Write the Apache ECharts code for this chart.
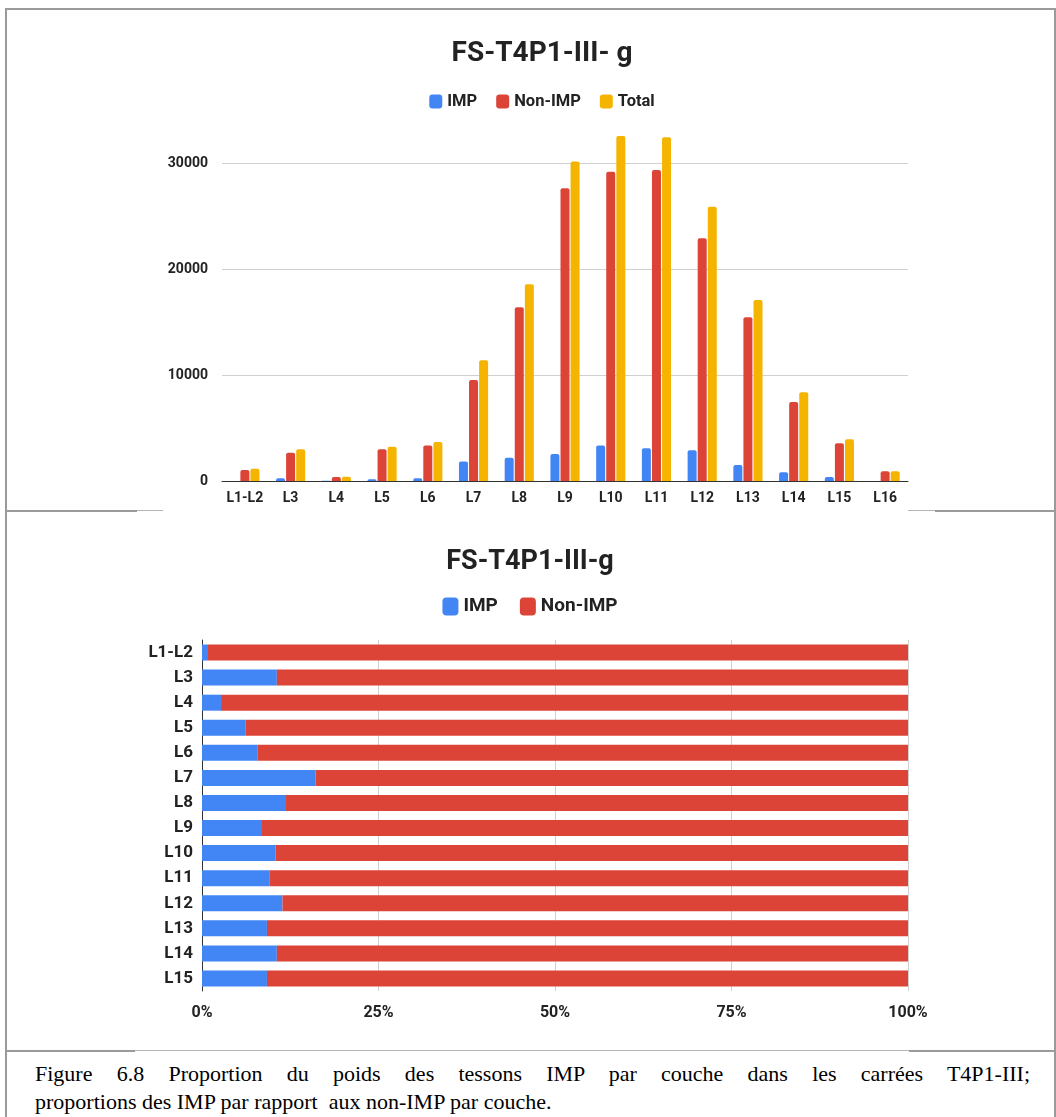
<!DOCTYPE html>
<html>
<head>
<meta charset="utf-8">
<script src="https://cdn.jsdelivr.net/npm/echarts@6/dist/echarts.min.js"></script>
<style>
  html, body { margin: 0; padding: 0; background: #fff; width: 1056px; height: 1117px; overflow: hidden; position: relative; }
  .ln { position: absolute; background: #9a9a9a; z-index: 5; }
  .thin { position: absolute; background: #b5b5b5; z-index: 5; height: 1px; }
  #top { position: absolute; left: 0; top: 0; width: 1084px; height: 512px; }
  #bot { position: absolute; left: 0; top: 515px; width: 1060px; height: 535px; }
  .cap { position: absolute; left: 35px; width: 995px; font-family: "Liberation Serif", "Times New Roman", serif; font-size: 22px; color: #000; white-space: nowrap; z-index: 6; }
  #cap1 { top: 1061px; text-align: justify; text-align-last: justify; white-space: normal; }
  #cap2 { top: 1089px; }
</style>
</head>
<body>
<div id="top"></div>
<div id="bot"></div>

<div class="ln" style="left:5px; top:8px; width:1051px; height:2px;"></div>
<div class="ln" style="left:5px; top:8px; width:2px; height:1109px;"></div>
<div class="ln" style="left:1054px; top:8px; width:2px; height:1109px;"></div>
<div class="ln" style="left:5px; top:510px; width:132px; height:2px;"></div>
<div class="thin" style="left:137px; top:510px; width:26px;"></div>
<div class="thin" style="left:908px; top:510px; width:27px;"></div>
<div class="ln" style="left:935px; top:510px; width:121px; height:2px;"></div>
<div class="ln" style="left:5px; top:1050px; width:130px; height:2px;"></div>
<div class="thin" style="left:135px; top:1050px; width:774px;"></div>
<div class="ln" style="left:909px; top:1050px; width:147px; height:2px;"></div>

<div class="cap" id="cap1">Figure 6.8 Proportion du poids des tessons IMP par couche dans les carrées T4P1-III;</div>
<div class="cap" id="cap2">proportions des IMP par rapport&nbsp; aux non-IMP par couche.</div>

<script>
// ---- Top chart data (grams) ----
const layers = ['L1-L2','L3','L4','L5','L6','L7','L8','L9','L10','L11','L12','L13','L14','L15','L16'];
const impWeight    = [10, 250, 12, 160, 250, 1850, 2200, 2550, 3360, 3080, 2890, 1510, 820, 380, 0];
const nonImpWeight = [1040, 2670, 380, 2990, 3360, 9530, 16380, 27610, 29180, 29340, 22890, 15440, 7450, 3550, 910];
const totalWeight  = [1160, 2990, 390, 3240, 3680, 11380, 18550, 30130, 32550, 32420, 25880, 17080, 8370, 3930, 910];
const weightTicks  = [0, 10000, 20000, 30000];

// ---- Bottom chart data (percent) ----
const layers2   = ['L1-L2','L3','L4','L5','L6','L7','L8','L9','L10','L11','L12','L13','L14','L15'];
const impPct    = [0.85, 10.6, 2.7, 6.2, 7.9, 16.1, 11.9, 8.5, 10.4, 9.6, 11.4, 9.2, 10.6, 9.2];
const nonImpPct = [99.15, 89.4, 97.3, 93.8, 92.1, 83.9, 88.1, 91.5, 89.6, 90.4, 88.6, 90.8, 89.4, 90.8];
const pctTicks  = ['0%', '25%', '50%', '75%', '100%'];

const BLUE = '#4285F4', RED = '#DB4437', YELLOW = '#F4B400';
const FONT = 'Roboto';

const topChart = echarts.init(document.getElementById('top'), null, { renderer: 'canvas' });
topChart.setOption({
  animation: false,
  color: [BLUE, RED, YELLOW],
  title: {
    text: 'FS-T4P1-III- g', left: 'center', top: 35,
    textStyle: { fontFamily: FONT, fontWeight: 'bold', fontSize: 28, color: '#222' }
  },
  legend: {
    data: ['IMP', 'Non-IMP', 'Total'], left: 'center', top: 88,
    icon: 'roundRect', itemWidth: 13, itemHeight: 14, itemGap: 19,
    textStyle: { fontFamily: FONT, fontWeight: 'bold', fontSize: 16.5, color: '#222' }
  },
  grid: { left: 222, right: 176, top: 163, bottom: 31, containLabel: false },
  xAxis: {
    type: 'category', data: layers,
    axisLine: { lineStyle: { color: '#333', width: 1 } },
    axisTick: { show: false },
    axisLabel: { fontFamily: FONT, fontWeight: 'bold', fontSize: 14, color: '#222', margin: 10, interval: 0 }
  },
  yAxis: {
    type: 'value', min: weightTicks[0], max: weightTicks[weightTicks.length - 1], interval: 10000,
    axisLine: { show: false }, axisTick: { show: false },
    splitLine: { lineStyle: { color: '#d0d0d0', width: 1 } },
    axisLabel: { fontFamily: FONT, fontWeight: 'bold', fontSize: 14, color: '#222', margin: 14,
      formatter: function (v) { return String(v); } }
  },
  series: [
    { name: 'IMP', type: 'bar', data: impWeight, barWidth: 9, barGap: '12%', clip: false, itemStyle: { borderRadius: [2, 2, 0, 0] } },
    { name: 'Non-IMP', type: 'bar', data: nonImpWeight, barWidth: 9, barGap: '12%', clip: false, itemStyle: { borderRadius: [2, 2, 0, 0] } },
    { name: 'Total', type: 'bar', data: totalWeight, barWidth: 9, barGap: '12%', clip: false, itemStyle: { borderRadius: [2, 2, 0, 0] } }
  ]
});

const botChart = echarts.init(document.getElementById('bot'), null, { renderer: 'canvas' });
botChart.setOption({
  animation: false,
  color: [BLUE, RED],
  title: {
    text: 'FS-T4P1-III-g', left: 'center', top: 29,
    textStyle: { fontFamily: FONT, fontWeight: 'bold', fontSize: 27, color: '#222' }
  },
  legend: {
    data: ['IMP', 'Non-IMP'], left: 'center', top: 77,
    icon: 'roundRect', itemWidth: 16, itemHeight: 18, itemGap: 22,
    textStyle: { fontFamily: FONT, fontWeight: 'bold', fontSize: 19, color: '#222' }
  },
  grid: { left: 202, right: 152, top: 125, bottom: 59, containLabel: false },
  xAxis: {
    type: 'value', min: 0, max: 100, interval: 25,
    axisLine: { show: false }, axisTick: { show: false },
    splitLine: { lineStyle: { color: '#d0d0d0', width: 1 } },
    axisLabel: {
      fontFamily: FONT, fontWeight: 'bold', fontSize: 16, color: '#222', margin: 14,
      formatter: function (v) { return pctTicks[Math.round(v / 25)]; }
    }
  },
  yAxis: {
    type: 'category', data: layers2, inverse: true,
    axisLine: { lineStyle: { color: '#333', width: 1 } },
    axisTick: { show: false },
    axisLabel: { fontFamily: FONT, fontWeight: 'bold', fontSize: 17, color: '#222', margin: 9, interval: 0 }
  },
  series: [
    { name: 'IMP', type: 'bar', stack: 'p', data: impPct, barWidth: 16 },
    { name: 'Non-IMP', type: 'bar', stack: 'p', data: nonImpPct, barWidth: 16 }
  ]
});
</script>
</body>
</html>
